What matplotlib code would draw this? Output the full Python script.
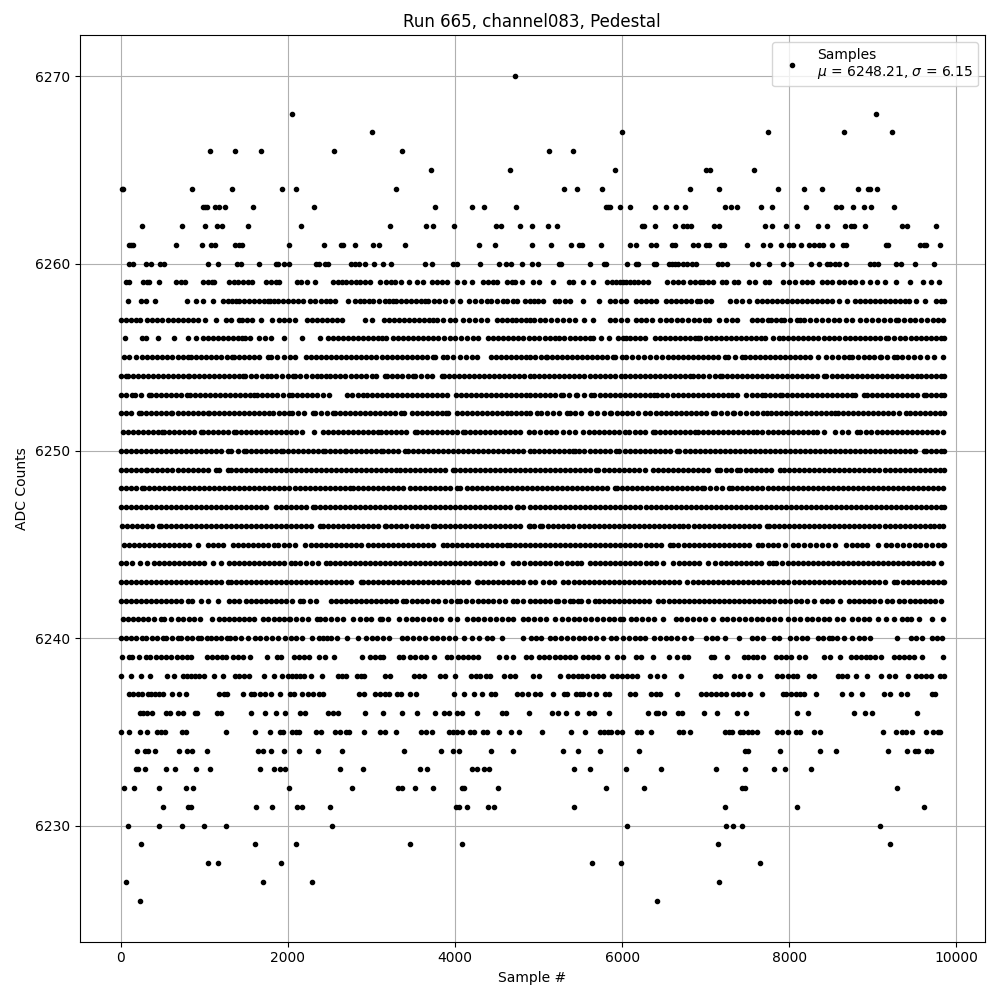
"""Pedestal scatter for run 665, channel083. Values read off the reference by ADC level.

Sample numbers are estimates. In the dense rows single samples overlap, so the lists
follow the visible coverage and gaps of each row rather than every original sample.
"""

import matplotlib
matplotlib.use("Agg")
import matplotlib.pyplot as plt

s6270 = [4724]
s6268 = [2048, 9036]
s6267 = [3008, 7740, 8652, 9228, 6000]
s6266 = [1064, 1364, 1676, 2552, 3368, 5124, 5412]
s6265 = [3716, 4664, 5916, 7008, 7056, 7584]
s6264 = [12, 32, 848, 1328, 1928, 2096, 3296, 5304, 5460, 5760, 6816, 7164, 7860, 8172, 8388, 8820, 8940, 8972, 9048]
s6263 = [980, 1004, 1028, 1124, 1172, 1244, 1580, 2312, 3764, 4208, 4352, 4736, 5808, 5832, 5856, 5976, 6096, 6396,
         6528, 6648, 6756, 7236, 7308, 7380, 7668, 7788, 8196, 8556, 8616, 8760, 8892, 8976, 9252]
s6262 = [260, 728, 1004, 1148, 1208, 1520, 2156, 3224, 3656, 3740, 3992, 4496, 4556, 4784, 4924, 5112, 5220, 6240,
         6264, 6396, 6636, 6732, 6780, 6828, 7104, 7164, 7704, 7788, 7956, 8088, 8340, 8448, 8664, 8736, 8772, 8904,
         9348, 9408, 9756]
s6261 = [104, 128, 152, 656, 968, 1076, 1124, 1364, 1412, 1448, 2012, 2432, 2636, 2660, 2804, 3020, 3092, 3404, 4292,
         4484, 4924, 5148, 5388, 5484, 5520, 5748, 6096, 6168, 6348, 6408, 6600, 6636, 6852, 6912, 7004, 7044, 7188,
         7224, 7500, 7692, 7764, 7896, 7992, 8040, 8136, 8232, 8292, 8352, 8400, 8508, 8640, 8676, 9156, 9180, 9564,
         9612, 9636, 9804]
s6260 = [104, 152, 308, 368, 476, 524, 1040, 1160, 1388, 1436, 1652, 1856, 1880, 1952, 2012, 2336, 2372, 2444, 2480,
         2756, 2804, 2852, 2924, 3032, 3140, 3236, 3644, 3728, 3980, 4028, 4304, 4532, 4616, 4676, 4808, 4924, 4992,
         5244, 5268, 5616, 5784, 5808, 6060, 6168, 6192, 6384, 6408, 6564, 6600, 6636, 6672, 6732, 6780, 6840, 6888,
         7152, 7200, 7260, 7560, 7632, 7752, 7920, 8016, 8256, 8352, 8448, 8484, 8544, 8592, 8676, 8964, 9012, 9060,
         9276, 9336, 9504, 9732]
s6259 = [60, 100, 270, 310, 340, 460, 660, 720, 770, 980, 1040, 1090, 1120, 1300, 1350, 1400, 1460, 1520, 1570, 1740,
         1800, 1860, 1900, 2110, 2160, 2228, 2320, 2540, 2600, 2650, 2700, 2760, 2810, 2860, 2920, 2980, 3108, 3180,
         3230, 3280, 3360, 3452, 3550, 3620, 3720, 3780, 3840, 3900, 4028, 4112, 4208, 4340, 4400, 4450, 4500, 4620,
         4680, 4720, 4808, 4932, 5004, 5172, 5364, 5412, 5532, 5652, 5820, 5880, 5930, 5970, 6010, 6050, 6090, 6140,
         6190, 6250, 6312, 6540, 6612, 6672, 6732, 6812, 6872, 6932, 6972, 7032, 7084, 7192, 7244, 7340, 7392, 7524,
         7592, 7704, 7752, 7920, 7992, 8072, 8152, 8212, 8272, 8392, 8452, 8512, 8592, 8652, 8724, 8792, 8872, 8964,
         9052, 9140, 9272, 9444, 9604, 9692, 9792]
s6258 = [92, 240, 300, 408, 788, 900, 980, 1100, 1220, 1280, 1330, 1380, 1420, 1480, 1532, 1600, 1660, 1710, 1760, 1792,
         1840, 1880, 1940, 2000, 2060, 2120, 2180, 2260, 2320, 2400, 2460, 2510, 2560, 2720, 2800, 2860, 2910, 2970, 3020,
         3092, 3160, 3210, 3260, 3300, 3360, 3420, 3470, 3530, 3590, 3640, 3680, 3752, 3812, 3880, 3960, 4060, 4172, 4240,
         4310, 4380, 4428, 4500, 4580, 4628, 4690, 4740, 4840, 4900, 4950, 4992, 5052, 5192, 5250, 5320, 5380, 5532, 5720,
         5860, 5920, 5990, 6052, 6164, 6230, 6290, 6340, 6404, 6524, 6590, 6650, 6710, 6770, 6830, 6892, 6932, 7000, 7060,
         7292, 7364, 7440, 7524, 7612, 7670, 7730, 7790, 7850, 7910, 7970, 8030, 8090, 8150, 8210, 8270, 8330, 8390, 8450,
         8512, 8592, 8692, 8792, 8850, 8910, 8970, 9030, 9090, 9150, 9210, 9270, 9330, 9390, 9432, 9520, 9628, 9752, 9820,
         9846]
s6257 = [0, 60, 120, 180, 228, 320, 380, 440, 500, 572, 630, 690, 750, 810, 870, 930, 1012, 1140, 1260, 1320, 1412, 1452,
         1510, 1572, 1680, 1812, 1900, 1952, 2020, 2080, 2228, 2290, 2350, 2410, 2470, 2530, 2590, 2652, 2920, 3012, 3148,
         3210, 3270, 3330, 3390, 3450, 3510, 3570, 3630, 3690, 3740, 3780, 3860, 3940, 4004, 4100, 4170, 4240, 4310, 4380,
         4500, 4560, 4620, 4680, 4732, 4790, 4850, 4900, 4940, 5012, 5080, 5150, 5220, 5290, 5360, 5432, 5544, 5652, 5852,
         5920, 5990, 6060, 6164, 6232, 6290, 6352, 6452, 6520, 6590, 6660, 6720, 6790, 6860, 6920, 6990, 7044, 7164, 7244,
         7310, 7372, 7552, 7620, 7680, 7740, 7780, 7840, 7900, 7940, 8010, 8092, 8124, 8180, 8252, 8320, 8390, 8460, 8530,
         8600, 8680, 8752, 8852, 8920, 8990, 9060, 9130, 9200, 9272, 9300, 9370, 9440, 9510, 9580, 9650, 9720, 9780, 9844]
s6256 = [52, 252, 300, 452, 632, 808, 900, 980, 1040, 1100, 1160, 1220, 1280, 1340, 1400, 1450, 1490, 1552, 1660, 1730,
         1800, 1952, 2168, 2388, 2480, 2540, 2600, 2660, 2720, 2780, 2840, 2900, 2960, 3020, 3080, 3130, 3180, 3260, 3320,
         3380, 3440, 3500, 3560, 3620, 3680, 3740, 3800, 3870, 3940, 4000, 4070, 4140, 4212, 4280, 4400, 4460, 4520, 4580,
         4640, 4700, 4760, 4820, 4880, 4950, 5010, 5072, 5132, 5192, 5244, 5310, 5372, 5432, 5492, 5552, 5610, 5652, 5744,
         5844, 5952, 6010, 6052, 6092, 6150, 6210, 6272, 6392, 6450, 6510, 6570, 6630, 6690, 6750, 6810, 6870, 6912, 6932,
         7000, 7060, 7120, 7180, 7240, 7300, 7360, 7420, 7480, 7540, 7600, 7660, 7712, 7804, 7872, 7930, 7990, 8050, 8110,
         8170, 8230, 8290, 8350, 8410, 8470, 8530, 8590, 8672, 8724, 8790, 8850, 8910, 8970, 9030, 9090, 9152, 9180, 9250,
         9320, 9380, 9460, 9520, 9580, 9640, 9700, 9760, 9820, 9850]
s6255 = [40, 100, 180, 252, 320, 380, 440, 500, 560, 612, 680, 740, 800, 840, 900, 960, 1020, 1080, 1140, 1200, 1270, 1332,
         1360, 1420, 1480, 1540, 1600, 1660, 1760, 1800, 1870, 1950, 2028, 2088, 2220, 2280, 2340, 2400, 2460, 2520, 2580,
         2640, 2700, 2760, 2820, 2880, 2940, 3000, 3060, 3132, 3190, 3250, 3310, 3370, 3430, 3490, 3550, 3610, 3670, 3740,
         3760, 3860, 3900, 3980, 4060, 4130, 4200, 4260, 4428, 4490, 4550, 4610, 4670, 4730, 4790, 4850, 4900, 4960, 5030,
         5084, 5100, 5160, 5220, 5280, 5340, 5400, 5460, 5520, 5580, 5640, 5700, 5760, 5820, 5892, 5912, 6004, 6052, 6120,
         6190, 6260, 6330, 6400, 6480, 6552, 6604, 6670, 6730, 6790, 6850, 6910, 6970, 7030, 7090, 7150, 7232, 7272, 7350,
         7432, 7472, 7530, 7590, 7650, 7710, 7770, 7830, 7890, 7950, 8010, 8070, 8130, 8190, 8250, 8340, 8444, 8510, 8580,
         8650, 8712, 8752, 8820, 8890, 8960, 9020, 9084, 9104, 9170, 9252, 9284, 9350, 9420, 9490, 9560, 9652, 9732, 9844]
s6254 = [0, 60, 92, 150, 210, 270, 330, 390, 450, 510, 570, 630, 690, 750, 800, 820, 880, 940, 1000, 1060, 1120, 1180, 1240,
         1300, 1360, 1420, 1460, 1492, 1560, 1620, 1690, 1752, 1800, 1860, 1930, 2000, 2060, 2088, 2150, 2220, 2290, 2350,
         2400, 2452, 2510, 2570, 2630, 2690, 2750, 2810, 2870, 2930, 3012, 3052, 3160, 3188, 3250, 3310, 3370, 3440, 3500,
         3520, 3590, 3660, 3730, 3840, 3872, 3930, 3990, 4050, 4110, 4170, 4230, 4290, 4350, 4410, 4470, 4530, 4590, 4650,
         4710, 4770, 4830, 4892, 4950, 5010, 5070, 5130, 5190, 5250, 5310, 5370, 5430, 5490, 5550, 5610, 5670, 5730, 5790,
         5850, 5910, 5992, 6032, 6090, 6150, 6210, 6270, 6330, 6390, 6450, 6510, 6570, 6630, 6690, 6750, 6812, 6844, 6910,
         6970, 7040, 7110, 7172, 7192, 7250, 7310, 7370, 7430, 7490, 7550, 7610, 7670, 7730, 7790, 7850, 7910, 7970, 8030,
         8090, 8150, 8210, 8270, 8330, 8412, 8444, 8510, 8570, 8630, 8690, 8750, 8810, 8870, 8930, 8990, 9050, 9110, 9170,
         9230, 9290, 9350, 9410, 9470, 9532, 9572, 9640, 9700, 9760, 9820, 9846]
s6253 = [0, 60, 132, 172, 240, 340, 360, 420, 480, 540, 600, 660, 720, 788, 828, 890, 950, 1010, 1070, 1130, 1190, 1250, 1310,
         1370, 1430, 1490, 1550, 1600, 1628, 1690, 1750, 1810, 1870, 1940, 2012, 2052, 2110, 2170, 2230, 2290, 2350, 2420,
         2492, 2708, 2770, 2840, 2900, 2948, 3010, 3070, 3130, 3190, 3250, 3310, 3370, 3430, 3490, 3550, 3610, 3670, 3730,
         3790, 3850, 3900, 4012, 4070, 4130, 4190, 4250, 4310, 4370, 4430, 4490, 4550, 4610, 4670, 4730, 4790, 4850, 4900,
         4960, 5020, 5080, 5140, 5200, 5272, 5292, 5370, 5444, 5464, 5540, 5632, 5664, 5730, 5790, 5850, 5910, 5970, 6030,
         6090, 6150, 6210, 6270, 6330, 6380, 6412, 6480, 6540, 6604, 6664, 6730, 6790, 6850, 6910, 6970, 7030, 7090, 7150,
         7210, 7270, 7312, 7380, 7484, 7550, 7610, 7672, 7704, 7770, 7830, 7892, 7912, 7970, 8030, 8090, 8150, 8210, 8270,
         8330, 8390, 8450, 8510, 8570, 8630, 8690, 8752, 8792, 8892, 8932, 8990, 9050, 9110, 9170, 9230, 9290, 9350, 9410,
         9470, 9530, 9612, 9640, 9700, 9760, 9820, 9850]
s6252 = [0, 60, 120, 220, 240, 300, 360, 420, 480, 540, 600, 620, 680, 740, 800, 860, 920, 980, 1040, 1060, 1120, 1180, 1240,
         1300, 1360, 1420, 1480, 1540, 1600, 1660, 1720, 1780, 1820, 1890, 1950, 2020, 2052, 2120, 2190, 2300, 2324, 2400,
         2470, 2540, 2560, 2620, 2680, 2740, 2800, 2860, 2920, 2980, 3040, 3100, 3160, 3220, 3280, 3360, 3392, 3480, 3540,
         3600, 3660, 3720, 3780, 3840, 3892, 3920, 4028, 4080, 4140, 4200, 4260, 4320, 4380, 4440, 4500, 4560, 4620, 4668,
         4730, 4790, 4850, 4900, 4980, 5032, 5100, 5170, 5240, 5340, 5372, 5440, 5510, 5612, 5632, 5700, 5780, 5860, 5872,
         5940, 6000, 6060, 6120, 6192, 6272, 6332, 6400, 6460, 6520, 6580, 6640, 6700, 6760, 6820, 6880, 6940, 7000, 7092,
         7112, 7180, 7250, 7332, 7340, 7410, 7480, 7550, 7620, 7690, 7732, 7780, 7840, 7900, 7960, 8020, 8080, 8140, 8200,
         8260, 8320, 8380, 8440, 8500, 8552, 8580, 8640, 8700, 8760, 8820, 8880, 8940, 9000, 9060, 9120, 9180, 9240, 9312,
         9392, 9450, 9510, 9570, 9630, 9690, 9750, 9810, 9850]
s6251 = [30, 90, 150, 210, 270, 330, 390, 450, 500, 520, 580, 640, 700, 760, 820, 880, 960, 990, 1050, 1110, 1170, 1230, 1290,
         1360, 1380, 1440, 1500, 1560, 1620, 1680, 1740, 1800, 1860, 1920, 1980, 2040, 2100, 2168, 2308, 2420, 2480, 2540,
         2600, 2660, 2720, 2780, 2840, 2900, 2960, 3020, 3080, 3120, 3180, 3240, 3300, 3360, 3420, 3520, 3540, 3600, 3660,
         3720, 3780, 3840, 3900, 3960, 4020, 4100, 4120, 4180, 4240, 4300, 4360, 4420, 4480, 4540, 4600, 4660, 4720, 4780,
         4880, 4950, 5020, 5090, 5152, 5204, 5292, 5360, 5432, 5532, 5600, 5660, 5720, 5780, 5840, 5900, 5960, 6032, 6084,
         6150, 6210, 6270, 6372, 6392, 6450, 6510, 6570, 6630, 6690, 6750, 6810, 6872, 6904, 6970, 7030, 7090, 7150, 7210,
         7270, 7330, 7390, 7450, 7510, 7572, 7612, 7680, 7740, 7800, 7860, 7920, 7980, 8040, 8100, 8160, 8220, 8280, 8332,
         8412, 8552, 8632, 8700, 8812, 8852, 8920, 8980, 9052, 9110, 9170, 9230, 9290, 9350, 9410, 9470, 9530, 9590, 9650,
         9710, 9770, 9840]
s6250 = [0, 60, 120, 180, 240, 300, 360, 420, 480, 540, 600, 660, 720, 780, 840, 900, 960, 1020, 1080, 1140, 1200, 1280, 1320,
         1400, 1480, 1500, 1560, 1620, 1680, 1740, 1800, 1860, 1920, 1940, 2000, 2060, 2120, 2180, 2240, 2300, 2360, 2420,
         2440, 2500, 2560, 2620, 2680, 2700, 2760, 2820, 2880, 2940, 3000, 3060, 3120, 3140, 3200, 3260, 3320, 3400, 3440,
         3500, 3560, 3620, 3680, 3740, 3800, 3860, 3920, 3980, 4040, 4100, 4160, 4220, 4280, 4340, 4400, 4460, 4520, 4580,
         4640, 4700, 4760, 4820, 4892, 4950, 5010, 5070, 5130, 5190, 5250, 5310, 5370, 5412, 5432, 5490, 5550, 5610, 5670,
         5730, 5790, 5850, 5924, 5964, 6030, 6090, 6150, 6210, 6270, 6330, 6390, 6450, 6510, 6570, 6652, 6684, 6750, 6810,
         6870, 6930, 6990, 7050, 7110, 7170, 7230, 7290, 7350, 7410, 7470, 7530, 7590, 7650, 7710, 7770, 7830, 7890, 7950,
         8010, 8070, 8130, 8190, 8250, 8310, 8370, 8430, 8490, 8550, 8610, 8670, 8730, 8790, 8850, 8910, 8970, 9030, 9090,
         9150, 9210, 9270, 9330, 9390, 9450, 9510, 9612, 9632, 9700, 9760, 9820, 9850]
s6249 = [0, 60, 120, 180, 240, 300, 320, 380, 440, 500, 560, 620, 680, 740, 800, 860, 920, 980, 1040, 1140, 1180, 1280, 1320,
         1380, 1440, 1500, 1560, 1620, 1680, 1740, 1800, 1860, 1920, 1980, 2040, 2100, 2160, 2220, 2280, 2340, 2400, 2460,
         2520, 2580, 2640, 2700, 2760, 2820, 2880, 2940, 3000, 3060, 3120, 3180, 3240, 3300, 3340, 3400, 3460, 3520, 3580,
         3640, 3700, 3760, 3820, 3880, 3980, 4000, 4060, 4120, 4180, 4240, 4300, 4360, 4420, 4480, 4540, 4600, 4660, 4720,
         4780, 4840, 4900, 4960, 5020, 5080, 5140, 5200, 5260, 5320, 5380, 5440, 5500, 5560, 5620, 5692, 5712, 5780, 5840,
         5900, 5960, 6020, 6080, 6140, 6200, 6272, 6364, 6430, 6490, 6550, 6610, 6670, 6730, 6790, 6850, 6910, 6970, 7030,
         7132, 7172, 7240, 7300, 7372, 7412, 7480, 7540, 7600, 7660, 7720, 7780, 7892, 7932, 8000, 8060, 8120, 8180, 8240,
         8300, 8360, 8420, 8480, 8540, 8600, 8660, 8720, 8780, 8840, 8900, 8960, 9020, 9080, 9140, 9200, 9260, 9320, 9380,
         9440, 9500, 9560, 9620, 9680, 9740, 9800, 9850]
s6248 = [0, 60, 120, 180, 260, 280, 340, 400, 460, 520, 580, 640, 700, 760, 820, 880, 940, 1000, 1060, 1120, 1180, 1240, 1300,
         1360, 1420, 1480, 1540, 1600, 1660, 1720, 1780, 1840, 1900, 1960, 2020, 2080, 2140, 2200, 2260, 2320, 2380, 2440,
         2500, 2560, 2620, 2680, 2740, 2780, 2840, 2900, 2960, 3020, 3080, 3140, 3200, 3260, 3320, 3380, 3460, 3520, 3580,
         3640, 3700, 3760, 3820, 3880, 3940, 4020, 4060, 4140, 4200, 4260, 4320, 4380, 4440, 4500, 4560, 4620, 4680, 4740,
         4800, 4860, 4920, 4980, 5040, 5100, 5160, 5220, 5280, 5340, 5400, 5460, 5520, 5580, 5640, 5700, 5760, 5820, 5912,
         5940, 6000, 6060, 6120, 6180, 6240, 6300, 6360, 6420, 6480, 6540, 6600, 6660, 6720, 6780, 6840, 6900, 6952, 6980,
         7050, 7120, 7200, 7284, 7312, 7380, 7440, 7500, 7560, 7620, 7680, 7740, 7800, 7860, 7920, 7980, 8040, 8100, 8160,
         8220, 8280, 8340, 8400, 8460, 8520, 8580, 8640, 8700, 8760, 8820, 8880, 8940, 9000, 9060, 9120, 9180, 9240, 9300,
         9360, 9420, 9480, 9540, 9600, 9660, 9720, 9780, 9840]
s6247 = [0, 60, 120, 180, 240, 300, 360, 420, 480, 540, 600, 660, 720, 780, 840, 900, 960, 1020, 1080, 1140, 1200, 1260, 1320,
         1380, 1440, 1500, 1560, 1620, 1680, 1740, 1860, 1920, 1980, 2040, 2100, 2160, 2220, 2300, 2320, 2380, 2440, 2500,
         2560, 2620, 2680, 2740, 2800, 2860, 2920, 2980, 3040, 3100, 3160, 3220, 3280, 3340, 3400, 3460, 3520, 3580, 3640,
         3700, 3760, 3820, 3880, 3940, 4000, 4060, 4120, 4180, 4240, 4300, 4360, 4420, 4480, 4540, 4600, 4660, 4740, 4760,
         4820, 4900, 4960, 5020, 5080, 5140, 5200, 5260, 5320, 5380, 5440, 5500, 5560, 5620, 5680, 5740, 5800, 5860, 5920,
         5980, 6040, 6100, 6160, 6220, 6280, 6340, 6400, 6460, 6520, 6580, 6640, 6700, 6760, 6820, 6880, 6940, 7000, 7060,
         7120, 7180, 7240, 7300, 7360, 7420, 7480, 7540, 7600, 7660, 7720, 7780, 7840, 7900, 7960, 8020, 8080, 8140, 8200,
         8260, 8320, 8380, 8440, 8500, 8560, 8620, 8680, 8740, 8800, 8860, 8920, 8980, 9040, 9100, 9160, 9220, 9280, 9340,
         9400, 9460, 9520, 9580, 9640, 9700, 9760, 9820, 9850]
s6246 = [10, 70, 130, 190, 250, 310, 370, 460, 480, 540, 600, 660, 720, 780, 840, 900, 960, 1020, 1080, 1140, 1200, 1260, 1320,
         1380, 1440, 1500, 1560, 1620, 1680, 1740, 1800, 1860, 1920, 1980, 2040, 2100, 2160, 2220, 2280, 2380, 2420, 2480,
         2540, 2600, 2660, 2720, 2780, 2840, 2900, 2960, 3020, 3080, 3160, 3180, 3240, 3300, 3360, 3420, 3480, 3540, 3600,
         3660, 3740, 3760, 3820, 3880, 3940, 4000, 4060, 4120, 4180, 4240, 4300, 4360, 4420, 4480, 4540, 4600, 4660, 4720,
         4780, 4880, 4892, 4950, 5012, 5044, 5110, 5170, 5230, 5290, 5352, 5412, 5480, 5540, 5600, 5660, 5720, 5780, 5840,
         5900, 5960, 6020, 6080, 6140, 6200, 6260, 6320, 6380, 6440, 6500, 6560, 6620, 6680, 6732, 6792, 6860, 6920, 6980,
         7040, 7100, 7160, 7220, 7280, 7340, 7400, 7460, 7520, 7580, 7640, 7732, 7752, 7820, 7880, 7940, 8000, 8060, 8120,
         8180, 8240, 8300, 8360, 8420, 8480, 8540, 8600, 8660, 8720, 8780, 8840, 8900, 8960, 9020, 9080, 9140, 9200, 9260,
         9320, 9380, 9440, 9500, 9560, 9620, 9680, 9732, 9792, 9840]
s6245 = [40, 100, 160, 220, 280, 340, 400, 460, 520, 580, 640, 700, 760, 820, 920, 1040, 1100, 1160, 1220, 1340, 1400, 1460,
         1520, 1580, 1640, 1700, 1760, 1840, 1880, 1950, 2020, 2090, 2200, 2280, 2340, 2400, 2460, 2520, 2580, 2640, 2700,
         2760, 2820, 2880, 2960, 3020, 3080, 3140, 3200, 3260, 3320, 3380, 3440, 3500, 3560, 3620, 3680, 3740, 3860, 3900,
         3960, 4020, 4080, 4140, 4200, 4260, 4320, 4380, 4440, 4500, 4560, 4620, 4660, 4720, 4780, 4840, 4900, 4960, 5020,
         5080, 5140, 5200, 5260, 5320, 5380, 5440, 5500, 5560, 5620, 5680, 5740, 5800, 5860, 5920, 5980, 6040, 6100, 6160,
         6220, 6280, 6340, 6400, 6460, 6572, 6604, 6672, 6740, 6800, 6860, 6920, 6980, 7040, 7100, 7160, 7220, 7280, 7340,
         7400, 7460, 7520, 7632, 7672, 7740, 7800, 7860, 7952, 8044, 8110, 8172, 8252, 8320, 8390, 8460, 8552, 8684, 8750,
         8810, 8870, 8932, 9060, 9152, 9220, 9290, 9360, 9430, 9500, 9570, 9640, 9710, 9780, 9840, 9850]
s6244 = [0, 60, 140, 228, 320, 400, 460, 520, 580, 640, 700, 760, 820, 880, 940, 1000, 1100, 1200, 1300, 1360, 1420, 1480, 1540,
         1600, 1660, 1720, 1780, 1840, 1900, 1960, 2040, 2080, 2150, 2220, 2290, 2360, 2460, 2500, 2560, 2620, 2680, 2740,
         2800, 2860, 2920, 2980, 3040, 3100, 3160, 3220, 3280, 3340, 3400, 3460, 3520, 3580, 3640, 3700, 3760, 3820, 3880,
         3940, 4000, 4060, 4120, 4180, 4240, 4300, 4360, 4420, 4480, 4560, 4700, 4760, 4830, 4900, 4960, 5020, 5080, 5140,
         5212, 5272, 5340, 5400, 5460, 5512, 5612, 5680, 5740, 5800, 5860, 5920, 5980, 6040, 6100, 6160, 6220, 6280, 6340,
         6400, 6492, 6612, 6680, 6740, 6800, 6860, 6920, 7032, 7112, 7180, 7240, 7300, 7360, 7420, 7480, 7540, 7600, 7660,
         7752, 7800, 7840, 7912, 7980, 8040, 8100, 8160, 8220, 8280, 8340, 8400, 8460, 8520, 8580, 8640, 8700, 8760, 8820,
         8880, 8940, 9000, 9060, 9120, 9180, 9240, 9300, 9360, 9420, 9480, 9540, 9600, 9660, 9720, 9812]
s6243 = [0, 60, 120, 180, 240, 300, 360, 420, 480, 540, 600, 660, 720, 780, 840, 900, 960, 1020, 1080, 1140, 1200, 1280, 1320,
         1380, 1440, 1500, 1560, 1620, 1680, 1740, 1800, 1860, 1920, 1980, 2040, 2100, 2160, 2220, 2280, 2340, 2400, 2460,
         2520, 2580, 2640, 2700, 2760, 2880, 2900, 2960, 3020, 3080, 3140, 3200, 3260, 3320, 3380, 3440, 3500, 3560, 3620,
         3680, 3740, 3800, 3860, 3920, 3980, 4040, 4100, 4160, 4260, 4280, 4340, 4400, 4460, 4520, 4580, 4640, 4700, 4760,
         4820, 4900, 4960, 5052, 5120, 5190, 5292, 5352, 5420, 5480, 5540, 5600, 5660, 5720, 5780, 5840, 5900, 5960, 6020,
         6080, 6140, 6200, 6260, 6320, 6380, 6440, 6500, 6560, 6620, 6680, 6772, 6844, 6910, 6970, 7030, 7090, 7150, 7210,
         7270, 7330, 7390, 7450, 7510, 7570, 7630, 7690, 7750, 7810, 7870, 7930, 7990, 8052, 8112, 8180, 8240, 8300, 8360,
         8420, 8480, 8540, 8600, 8660, 8720, 8780, 8840, 8900, 8960, 9020, 9080, 9140, 9252, 9292, 9360, 9420, 9480, 9540,
         9600, 9660, 9720, 9780, 9840, 9850]
s6242 = [0, 60, 120, 180, 240, 300, 360, 420, 480, 540, 600, 660, 720, 800, 852, 960, 1040, 1160, 1300, 1360, 1420, 1500, 1560,
         1620, 1680, 1740, 1800, 1860, 1920, 1980, 2050, 2140, 2180, 2260, 2340, 2520, 2580, 2640, 2700, 2760, 2820, 2880,
         2940, 3000, 3060, 3120, 3180, 3240, 3300, 3380, 3420, 3480, 3540, 3600, 3660, 3740, 3800, 3880, 3950, 4020, 4060,
         4130, 4200, 4270, 4340, 4400, 4460, 4530, 4600, 4700, 4740, 4820, 4900, 4960, 5020, 5080, 5140, 5212, 5232, 5300,
         5372, 5412, 5472, 5512, 5590, 5672, 5720, 5780, 5840, 5900, 5960, 6020, 6080, 6140, 6200, 6260, 6320, 6432, 6492,
         6560, 6620, 6680, 6740, 6800, 6860, 6920, 6980, 7040, 7100, 7160, 7220, 7280, 7340, 7400, 7460, 7520, 7580, 7640,
         7700, 7760, 7820, 7892, 7952, 8012, 8080, 8140, 8212, 8292, 8392, 8450, 8512, 8604, 8712, 8780, 8840, 8900, 8960,
         9020, 9092, 9172, 9232, 9312, 9372, 9440, 9500, 9560, 9620, 9680, 9740, 9812]
s6241 = [30, 90, 150, 210, 270, 330, 400, 480, 520, 600, 680, 750, 820, 880, 948, 1088, 1180, 1240, 1300, 1360, 1420, 1480, 1540,
         1600, 1700, 1760, 1830, 1900, 1960, 2020, 2030, 2100, 2170, 2240, 2350, 2380, 2450, 2520, 2590, 2660, 2780, 2860,
         2930, 3000, 3100, 3130, 3200, 3330, 3410, 3480, 3550, 3620, 3690, 3760, 3830, 3940, 4028, 4140, 4210, 4280, 4350,
         4420, 4490, 4560, 4630, 4700, 4820, 4868, 4950, 5020, 5090, 5192, 5280, 5352, 5420, 5490, 5560, 5630, 5700, 5770,
         5840, 5900, 5972, 6012, 6112, 6172, 6240, 6310, 6380, 6488, 6640, 6710, 6780, 6850, 6920, 6992, 7084, 7192, 7260,
         7330, 7400, 7470, 7540, 7610, 7680, 7750, 7812, 7892, 7980, 8052, 8130, 8212, 8272, 8340, 8410, 8480, 8572, 8640,
         8752, 8820, 8890, 8960, 9060, 9156, 9252, 9352, 9412, 9452, 9552, 9712, 9840]
s6240 = [0, 60, 120, 180, 252, 300, 370, 440, 512, 548, 610, 680, 716, 788, 850, 920, 956, 1028, 1076, 1140, 1200, 1268, 1304,
         1364, 1436, 1520, 1604, 1670, 1740, 1810, 1880, 1964, 2036, 2100, 2170, 2288, 2372, 2420, 2468, 2520, 2588, 2708,
         2840, 2936, 3008, 3070, 3140, 3212, 3368, 3430, 3500, 3570, 3640, 3728, 3788, 3860, 3930, 4004, 4112, 4208, 4290,
         4380, 4448, 4568, 4820, 4912, 4970, 5032, 5132, 5200, 5270, 5340, 5410, 5480, 5550, 5620, 5690, 5772, 5872, 5932,
         6012, 6080, 6150, 6212, 6272, 6380, 6450, 6520, 6590, 6660, 6740, 6828, 7004, 7070, 7132, 7232, 7404, 7552, 7620,
         7692, 7812, 7872, 8012, 8080, 8150, 8212, 8340, 8400, 8472, 8512, 8572, 8652, 8752, 8832, 8892, 8972, 9292, 9452,
         9520, 9592, 9712, 9770, 9832]
s6239 = [20, 104, 140, 224, 308, 356, 428, 488, 548, 608, 668, 728, 788, 836, 1028, 1088, 1148, 1208, 1256, 1340, 1400, 1460,
         1544, 1756, 1868, 1916, 2072, 2132, 2192, 2252, 2372, 2444, 2552, 2888, 2984, 3044, 3104, 3140, 3332, 3380, 3464,
         3524, 3596, 3656, 3752, 3908, 3956, 4040, 4100, 4160, 4220, 4280, 4532, 4616, 4700, 4856, 4908, 5004, 5064, 5124,
         5192, 5256, 5316, 5376, 5436, 5532, 5592, 5652, 5712, 5820, 5940, 6012, 6168, 6228, 6372, 6564, 6660, 6744, 6792,
         7068, 7104, 7260, 7464, 7512, 7572, 7620, 7692, 7836, 7896, 7956, 8016, 8112, 8184, 8412, 8484, 8604, 8736, 8796,
         8856, 8916, 8964, 9024, 9096, 9252, 9312, 9372, 9432, 9492, 9588, 9840]
s6238 = [8, 128, 248, 356, 560, 632, 740, 788, 836, 884, 932, 992, 1120, 1220, 1364, 1412, 1472, 1532, 1712, 1832, 1928, 2000,
         2048, 2096, 2144, 2192, 2276, 2408, 2600, 2648, 2696, 2828, 2876, 2912, 3164, 3224, 3512, 3572, 3632, 3824, 3884,
         4004, 4196, 4256, 4304, 4376, 4424, 4592, 4664, 4724, 4932, 5004, 5256, 5352, 5412, 5472, 5520, 5580, 5652, 5712,
         5772, 5880, 5940, 6000, 6060, 6120, 6180, 6336, 6420, 6504, 6708, 7116, 7176, 7344, 7416, 7512, 7656, 7848, 7908,
         7980, 8040, 8088, 8232, 8292, 8580, 8628, 8688, 8796, 8928, 9096, 9192, 9264, 9420, 9516, 9576, 9636, 9696, 9804,
         9848]
s6237 = [104, 152, 212, 260, 332, 368, 416, 464, 512, 620, 692, 776, 1172, 1232, 1268, 1460, 1556, 1592, 1664, 1724, 1796, 1904,
         2024, 2072, 2168, 2240, 2300, 2372, 2420, 2852, 2912, 3044, 3104, 3164, 3212, 3308, 3356, 3464, 3536, 3992, 4112,
         4232, 4328, 4436, 4484, 4748, 4808, 4868, 4956, 5016, 5172, 5304, 5340, 5448, 5496, 5532, 5604, 5688, 5796, 5844,
         6096, 6156, 6348, 6408, 6448, 6660, 6948, 7008, 7068, 7128, 7188, 7248, 7332, 7392, 7452, 7536, 7680, 7920, 7956,
         8016, 8076, 8124, 8172, 8316, 8628, 8736, 8868, 9132, 9204, 9336, 9408, 9708, 9744]
s6236 = [236, 272, 320, 380, 548, 596, 680, 740, 884, 908, 1148, 1196, 1556, 1724, 1856, 1964, 2144, 2204, 2480, 2540, 2600,
         2924, 3140, 3368, 3548, 3764, 3872, 3932, 4028, 4088, 4268, 4568, 4616, 4880, 5160, 5232, 5328, 5460, 5604, 5664,
         5844, 6312, 6408, 6432, 6504, 6672, 6720, 6984, 7140, 7380, 7488, 8088, 8220, 8772, 8904, 8988, 9528]
s6235 = [0, 104, 236, 320, 440, 488, 536, 728, 776, 1256, 1604, 1784, 1904, 1940, 2048, 2096, 2132, 2336, 2396, 2564, 2624, 2696,
         2732, 2912, 3104, 3164, 3296, 3596, 3656, 3728, 3932, 3980, 4028, 4088, 4184, 4232, 4340, 4388, 4532, 4676, 4772,
         5040, 5388, 5556, 5736, 5784, 5832, 5868, 5940, 6000, 6180, 6228, 6348, 6684, 6732, 6816, 7236, 7284, 7320, 7416,
         7452, 7512, 7560, 7620, 7848, 7908, 7980, 8076, 8124, 8292, 8364, 9120, 9276, 9348, 9396, 9468, 9636, 9720, 9780,
         9804]
s6234 = [200, 296, 332, 416, 692, 788, 848, 1028, 1640, 1700, 1796, 1952, 2128, 2360, 2648, 3392, 3836, 3980, 4052, 4436, 4700,
         5292, 5472, 5736, 6204, 7476, 7512, 7884, 8364, 8556, 9180, 9408, 9504, 9540, 9648, 9696]
s6233 = [188, 212, 296, 548, 644, 896, 1064, 1664, 1832, 1904, 1964, 2624, 2900, 3584, 3668, 4208, 4268, 4352, 4412, 5424, 5616,
         6048, 6468, 7128, 7476, 7812, 7944, 8256]
s6232 = [44, 164, 464, 776, 860, 2012, 2768, 3320, 3368, 3524, 3740, 4088, 4112, 4520, 5808, 6264, 7440, 7476, 9288]
s6231 = [512, 800, 836, 1616, 1808, 2108, 2168, 2504, 4016, 4052, 4148, 4400, 4472, 5424, 7236, 8088, 9612]
s6230 = [92, 464, 728, 992, 1256, 2528, 6060, 7248, 7332, 7440, 9084]
s6229 = [248, 1604, 2096, 3464, 4088, 7152, 9204]
s6228 = [1040, 1160, 1916, 5640, 5988, 7656]
s6227 = [68, 1700, 2288, 7164]
s6226 = [236, 6420]

levels = [6270, 6268, 6267, 6266, 6265, 6264, 6263, 6262, 6261, 6260, 6259, 6258, 6257, 6256, 6255, 6254, 6253, 6252,
          6251, 6250, 6249, 6248, 6247, 6246, 6245, 6244, 6243, 6242, 6241, 6240, 6239, 6238, 6237, 6236, 6235, 6234,
          6233, 6232, 6231, 6230, 6229, 6228, 6227, 6226]
rows = [s6270, s6268, s6267, s6266, s6265, s6264, s6263, s6262, s6261, s6260, s6259, s6258, s6257, s6256, s6255, s6254,
        s6253, s6252, s6251, s6250, s6249, s6248, s6247, s6246, s6245, s6244, s6243, s6242, s6241, s6240, s6239, s6238,
        s6237, s6236, s6235, s6234, s6233, s6232, s6231, s6230, s6229, s6228, s6227, s6226]

samples = []
counts = []
for level, row in zip(levels, rows):
    samples.extend(row)
    counts.extend([level] * len(row))

fig, ax = plt.subplots(figsize=(10, 10))
ax.plot(samples, counts, "k.", label="Samples\n$\\mu$ = 6248.21, $\\sigma$ = 6.15")
ax.set_title("Run 665, channel083, Pedestal")
ax.set_xlabel("Sample #")
ax.set_ylabel("ADC Counts")
ax.ticklabel_format(useOffset=False, style="plain")
ax.grid(True)
ax.legend(loc="upper right")
plt.tight_layout()
fig.subplots_adjust(top=0.965)
plt.savefig("out.png", dpi=100)
